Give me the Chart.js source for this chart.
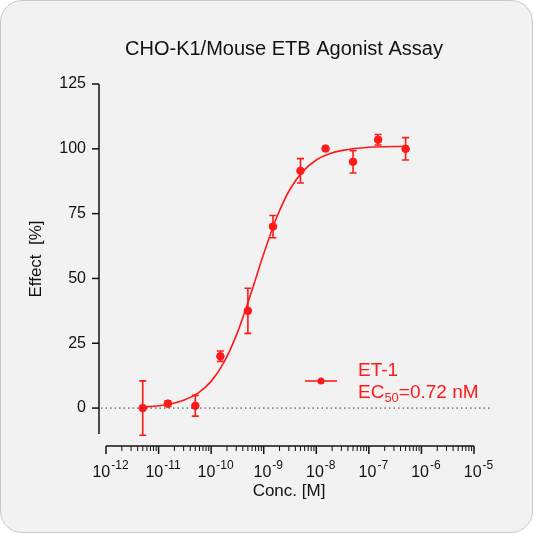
<!DOCTYPE html>
<html><head><meta charset="utf-8">
<script src="https://cdn.jsdelivr.net/npm/chart.js@4"></script>
<style>
body{margin:0;background:#fff}
#wrap{position:absolute;left:0;top:0;width:531px;height:531px;border:1px solid #c8c8c8;border-radius:22px;background:#f2f2f2;overflow:hidden}
canvas{position:absolute;left:0;top:0}
</style></head><body>
<div id="wrap"><canvas id="c" width="533" height="533"></canvas></div>
<script>
// measured points
const conc = [5e-12, 1.5e-11, 5e-11, 1.5e-10, 5e-10, 1.5e-9, 5e-9, 1.5e-8, 5e-8, 1.5e-7, 5e-7];
const effect = [0, 1.7, 0.9, 20, 37.5, 70, 91.5, 100.1, 95, 103.5, 100];
const errs = [10.5, 1, 4, 2, 8.7, 4.3, 4.7, 0, 4.3, 2, 4.3];
// fitted curve
const curveX = [5e-12, 1e-11, 1.78e-11, 3.16e-11, 5.62e-11, 1e-10, 1.78e-10, 3.16e-10, 5.62e-10, 1e-9, 1.78e-9, 3.16e-9, 5.62e-9, 1e-8, 1.78e-8, 3.16e-8, 1e-7, 5e-7];
const curveY = [0.4, 0.9, 1.7, 3.2, 5.8, 10.3, 17.9, 29.1, 43.7, 59.5, 73.7, 84.4, 91.4, 95.7, 98.1, 99.4, 100.6, 101];
const yTicks = [0, 25, 50, 75, 100, 125];
const xDecades = [-12, -11, -10, -9, -8, -7, -6, -5];

const red = '#ff1a1a';
const F = 'Arial, "Liberation Sans"';
const decor = {
  id: 'decor',
  afterDatasetsDraw(chart) {
    const c = chart.ctx, x = chart.scales.x, y = chart.scales.y;
    c.save();
    // error bars
    c.strokeStyle = red; c.lineWidth = 1.6;
    conc.forEach((v, i) => {
      if (!errs[i]) return;
      const px = x.getPixelForValue(v), t = y.getPixelForValue(effect[i] + errs[i]), b = y.getPixelForValue(effect[i] - errs[i]);
      c.beginPath();
      c.moveTo(px, t); c.lineTo(px, b);
      c.moveTo(px - 3.5, t); c.lineTo(px + 3.5, t);
      c.moveTo(px - 3.5, b); c.lineTo(px + 3.5, b);
      c.stroke();
    });
    // dotted zero line
    c.strokeStyle = '#333'; c.lineWidth = 1; c.setLineDash([1.5, 3]);
    c.beginPath(); c.moveTo(100, y.getPixelForValue(0)); c.lineTo(490, y.getPixelForValue(0)); c.stroke();
    c.setLineDash([]);
    // y axis
    c.strokeStyle = '#111'; c.lineWidth = 1.5;
    c.beginPath(); c.moveTo(98, y.getPixelForValue(125)); c.lineTo(98, y.bottom); c.stroke();
    c.fillStyle = '#111'; c.font = '16px ' + F; c.textAlign = 'right'; c.textBaseline = 'middle';
    yTicks.forEach(t => {
      const py = y.getPixelForValue(t);
      c.beginPath(); c.moveTo(91, py); c.lineTo(98, py); c.stroke();
      c.fillText(String(t), 85, py);
    });
    // x axis
    const ay = 445;
    c.beginPath(); c.moveTo(x.getPixelForValue(1e-12), ay); c.lineTo(x.getPixelForValue(1e-5), ay); c.stroke();
    xDecades.forEach((d, k) => {
      const p = x.getPixelForValue(Math.pow(10, d));
      c.lineWidth = 1.5;
      c.beginPath(); c.moveTo(p, ay); c.lineTo(p, ay + 8); c.stroke();
      if (k < xDecades.length - 1) {
        c.lineWidth = 1;
        for (let m = 2; m <= 9; m++) {
          const q = x.getPixelForValue(m * Math.pow(10, d));
          c.beginPath(); c.moveTo(q, ay); c.lineTo(q, ay + 5); c.stroke();
        }
      }
      c.textBaseline = 'alphabetic';
      c.font = '16px ' + F;
      const w1 = c.measureText('10').width;
      c.font = '12px ' + F;
      const w2 = c.measureText(String(d)).width;
      const sx = p - (w1 + w2) / 2 + 4;
      c.textAlign = 'left';
      c.font = '16px ' + F; c.fillText('10', sx, 476);
      c.font = '12px ' + F; c.fillText(String(d), sx + w1 + 1, 468);
    });
    // titles
    c.textAlign = 'center'; c.font = '17px ' + F;
    c.fillText('Conc. [M]', 288, 495);
    c.font = '20px ' + F;
    c.fillText('CHO-K1/Mouse ETB Agonist Assay', 283, 54);
    c.save(); c.translate(40, 258); c.rotate(-Math.PI / 2);
    c.font = '17px ' + F; c.fillText('Effect  [%]', 0, 0); c.restore();
    // legend
    c.strokeStyle = red; c.fillStyle = red; c.lineWidth = 1.6;
    c.beginPath(); c.moveTo(304, 380); c.lineTo(336, 380); c.stroke();
    c.beginPath(); c.arc(320, 380, 3.5, 0, Math.PI * 2); c.fill();
    c.textAlign = 'left'; c.font = '19px ' + F;
    c.fillText('ET-1', 357, 375);
    c.fillText('EC', 357, 397);
    const wEC = c.measureText('EC').width;
    c.font = '13px ' + F; c.fillText('50', 357 + wEC, 401);
    const w50 = c.measureText('50').width;
    c.font = '19px ' + F; c.fillText('=0.72 nM', 357 + wEC + w50, 397);
    c.restore();
  }
};

new Chart(document.getElementById('c'), {
  type: 'scatter',
  data: {
    datasets: [
      { data: conc.map((v, i) => ({ x: v, y: effect[i] })), backgroundColor: red, borderColor: red, pointRadius: 3.8 },
      { data: curveX.map((v, i) => ({ x: v, y: curveY[i] })), showLine: true, borderColor: red, borderWidth: 1.6, pointRadius: 0, cubicInterpolationMode: 'monotone' }
    ]
  },
  options: {
    responsive: false, animation: false,
    layout: { padding: { left: 105, right: 60, top: 83, bottom: 100 } },
    plugins: { legend: { display: false }, tooltip: { enabled: false } },
    scales: {
      x: { type: 'logarithmic', min: 1e-12, max: 1e-5, display: false },
      y: { min: -10, max: 125, display: false }
    }
  },
  plugins: [decor]
});
</script>
</body></html>
